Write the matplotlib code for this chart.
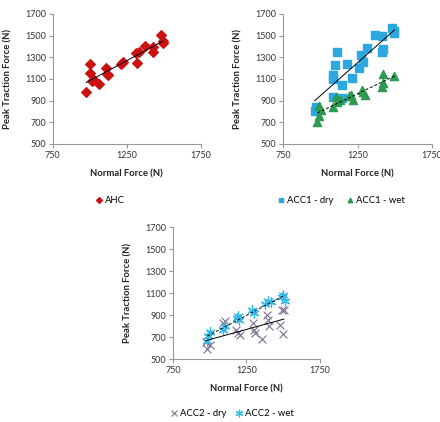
import matplotlib
matplotlib.use("Agg")
import matplotlib.pyplot as plt
import numpy as np

plt.rcParams["font.family"] = ["Lato", "DejaVu Sans"]

# AHC
ahc_x = [976, 1005, 1003, 1016, 1028, 1061, 1111, 1116, 1122, 1213, 1224,
         1310, 1319, 1332, 1375, 1427, 1427, 1479, 1495, 1495]
ahc_y = [980, 1240, 1157, 1077, 1092, 1055, 1197, 1148, 1132, 1237, 1252,
         1335, 1245, 1347, 1405, 1393, 1344, 1510, 1452, 1430]

# ACC1
acc1_dry_x = [963, 975, 1087, 1098, 1087, 1083, 1110, 1143, 1143, 1177, 1215,
              1262, 1274, 1285, 1316, 1368, 1413, 1413, 1424, 1480, 1492, 1498]
acc1_dry_y = [807, 841, 930, 1231, 1139, 1102, 1344, 1046, 924, 1240, 1108,
              1200, 1323, 1252, 1384, 1507, 1497, 1353, 1378, 1568, 1522, 1544]
acc1_wet_x = [981, 993, 993, 1002, 1087, 1105, 1114, 1132, 1195, 1204, 1222,
              1279, 1290, 1301, 1413, 1420, 1424, 1496]
acc1_wet_y = [703, 755, 853, 817, 838, 933, 890, 909, 939, 948, 909,
              994, 976, 955, 1022, 1062, 1148, 1123]

# ACC2
acc2_dry_x = [974, 985, 999, 1094, 1105, 1180, 1196, 1207, 1297, 1302, 1308,
              1354, 1388, 1399, 1404, 1478, 1490, 1496, 1505]
acc2_dry_y = [652, 591, 630, 827, 842, 767, 736, 721, 827, 767, 736,
              682, 903, 858, 797, 812, 948, 730, 948]
acc2_wet_x = [985, 992, 1003, 1089, 1105, 1184, 1196, 1200, 1290, 1302,
              1377, 1399, 1415, 1490, 1500, 1512]
acc2_wet_y = [667, 706, 742, 767, 797, 873, 888, 858, 948, 918,
              1000, 1024, 1015, 1064, 1082, 1024]

x_ticks = [750, 1250, 1750]
y_ticks = [500, 700, 900, 1100, 1300, 1500, 1700]

RED = "#CC1111"
BLUE = "#2BA8E0"
GREEN = "#2E9950"
PURPLE = "#7D7090"
LBLUE = "#33B8EA"


def style(ax):
    ax.set_xlim(750, 1750)
    ax.set_ylim(500, 1700)
    ax.set_xticks(x_ticks)
    ax.set_yticks(y_ticks)
    for s in ("top", "right"):
        ax.spines[s].set_visible(False)
    for s in ("left", "bottom"):
        ax.spines[s].set_color("#999999")
        ax.spines[s].set_linewidth(0.8)
    ax.tick_params(labelsize=6.5, length=3, width=0.8, color="#999999",
                   labelcolor="#333333", pad=2)
    ax.set_xlabel("Normal Force (N)", fontsize=6.8, fontweight="bold",
                  color="#222222", labelpad=7)
    ax.set_ylabel("Peak Traction Force (N)", fontsize=6.8, fontweight="bold",
                  color="#222222", labelpad=9)


def trend(ax, x, y, ls):
    x = np.asarray(x, float)
    y = np.asarray(y, float)
    k, b = np.polyfit(x, y, 1)
    xs = np.array([x.min(), x.max()])
    ax.plot(xs, k * xs + b, color="black", lw=0.7, ls=ls, zorder=3)


leg_kw = dict(loc="center", frameon=False, fontsize=6.8, handletextpad=0.2,
              handlelength=0.8)

fig = plt.figure(figsize=(4.4, 4.22), dpi=100)
ax1 = fig.add_axes([0.120, 0.659, 0.336, 0.308])
ax2 = fig.add_axes([0.643, 0.659, 0.339, 0.308])
ax3 = fig.add_axes([0.393, 0.149, 0.334, 0.313])

ax1.scatter(ahc_x, ahc_y, marker="D", s=24, color=RED, label="AHC", zorder=2)
trend(ax1, ahc_x, ahc_y, "-")
style(ax1)
h, l = ax1.get_legend_handles_labels()
fig.legend(h, l, bbox_to_anchor=(0.25, 0.526), markerscale=0.6, **leg_kw)

ax2.scatter(acc1_dry_x, acc1_dry_y, marker="s", s=40, color=BLUE,
            label="ACC1 - dry", zorder=2)
ax2.scatter(acc1_wet_x, acc1_wet_y, marker="^", s=34, color=GREEN,
            label="ACC1 - wet", zorder=2)
trend(ax2, acc1_dry_x, acc1_dry_y, "-")
trend(ax2, acc1_wet_x, acc1_wet_y, (0, (3, 2)))
style(ax2)
h, l = ax2.get_legend_handles_labels()
fig.legend(h, l, bbox_to_anchor=(0.775, 0.526), ncol=2, columnspacing=1.4,
           markerscale=0.55, **leg_kw)

ax3.scatter(acc2_dry_x, acc2_dry_y, marker="x", s=32, color=PURPLE, lw=0.8,
            label="ACC2 - dry", zorder=2)
ax3.scatter(acc2_wet_x, acc2_wet_y, marker=(6, 2, 0), s=42, color=LBLUE, lw=0.9,
            label="ACC2 - wet", zorder=2)
trend(ax3, acc2_dry_x, acc2_dry_y, "-")
trend(ax3, acc2_wet_x, acc2_wet_y, (0, (3, 2)))
style(ax3)
h, l = ax3.get_legend_handles_labels()
fig.legend(h, l, bbox_to_anchor=(0.527, 0.021), ncol=2, columnspacing=1.0,
           markerscale=0.75, **leg_kw)

fig.savefig("out.png", dpi=100)
